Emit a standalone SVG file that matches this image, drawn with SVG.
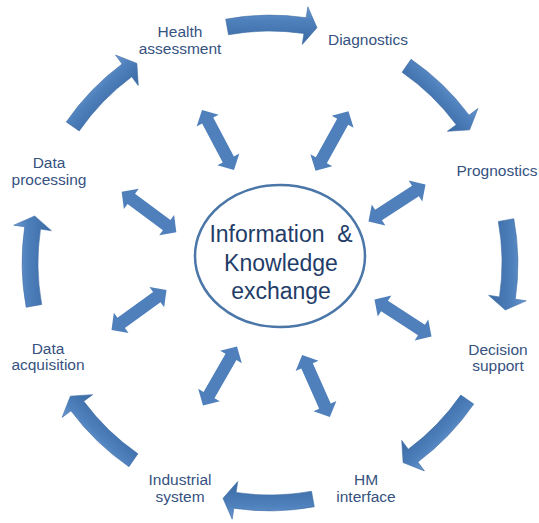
<svg xmlns="http://www.w3.org/2000/svg" width="539" height="523" viewBox="0 0 539 523">
<defs>
<linearGradient id="cg" x1="0" y1="0" x2="0" y2="1">
<stop offset="0" stop-color="#6e9bd1"/>
<stop offset="0.35" stop-color="#4f81bd"/>
<stop offset="1" stop-color="#3a69a2"/>
</linearGradient>
<path id="cyc" d="M-44.3,-243.8 A248,248 0 0 1 36.2,-245.3 L37.8,-256.2 L47,-235.3 L32.3,-218.6 L33.9,-229.5 A232,232 0 0 0 -41.5,-228.3 Z"/>
<path id="dbl" d="M-34,0 L-22,-12.5 L-22,-6.3 L22,-6.3 L22,-12.5 L34,0 L22,12.5 L22,6.3 L-22,6.3 L-22,12.5 Z"/>
</defs>
<style>
.cyc{fill:url(#cg);stroke:#3d6ca5;stroke-width:0.6}
.dbl{fill:#4f80bc}
.lbl{font-family:"Liberation Sans",Arial,sans-serif;font-size:15.5px;fill:#36527f;text-anchor:middle}
.ctr{font-family:"Liberation Sans",Arial,sans-serif;font-size:23px;fill:#1f3d68;text-anchor:middle}
.ell{fill:#ffffff;stroke:#4a76a8;stroke-width:2.5}
</style>
<rect width="539" height="523" fill="#ffffff"/>
<g id="connectors">
<g id="cycle-arrows">
<use href="#cyc" class="cyc" transform="translate(270,263) rotate(0)"/>
<use href="#cyc" class="cyc" transform="translate(270,263) rotate(45)"/>
<use href="#cyc" class="cyc" transform="translate(270,263) rotate(90)"/>
<use href="#cyc" class="cyc" transform="translate(270,263) rotate(135)"/>
<use href="#cyc" class="cyc" transform="translate(270,263) rotate(180)"/>
<use href="#cyc" class="cyc" transform="translate(270,263) rotate(225)"/>
<use href="#cyc" class="cyc" transform="translate(270,263) rotate(270)"/>
<use href="#cyc" class="cyc" transform="translate(270,263) rotate(315)"/>
</g>
<g id="exchange-arrows">
<use href="#dbl" class="dbl" transform="translate(218,140) rotate(62)"/>
<use href="#dbl" class="dbl" transform="translate(332,141) rotate(119)"/>
<use href="#dbl" class="dbl" transform="translate(397,203) rotate(147)"/>
<use href="#dbl" class="dbl" transform="translate(403,318) rotate(33)"/>
<use href="#dbl" class="dbl" transform="translate(316,386) rotate(66)"/>
<use href="#dbl" class="dbl" transform="translate(220,376) rotate(120)"/>
<use href="#dbl" class="dbl" transform="translate(139,310) rotate(144)"/>
<use href="#dbl" class="dbl" transform="translate(149,212) rotate(36.5)"/>
</g>
</g>
<g id="center">
<ellipse class="ell" cx="280" cy="256" rx="85" ry="71"/>
<text class="ctr" x="281" y="242" xml:space="preserve">Information  &amp;</text>
<text class="ctr" x="281" y="271">Knowledge</text>
<text class="ctr" x="281" y="299">exchange</text>
</g>
<g id="health"><text class="lbl" x="180" y="37">Health</text><text class="lbl" x="180" y="54">assessment</text></g>
<g id="diagnostics"><text class="lbl" x="368" y="45">Diagnostics</text></g>
<g id="prognostics"><text class="lbl" x="497" y="176">Prognostics</text></g>
<g id="decision"><text class="lbl" x="498" y="355">Decision</text><text class="lbl" x="498" y="371">support</text></g>
<g id="hm"><text class="lbl" x="366" y="485">HM</text><text class="lbl" x="366" y="502">interface</text></g>
<g id="industrial"><text class="lbl" x="180" y="485">Industrial</text><text class="lbl" x="180" y="502">system</text></g>
<g id="acquisition"><text class="lbl" x="48" y="354">Data</text><text class="lbl" x="48" y="370">acquisition</text></g>
<g id="processing"><text class="lbl" x="49" y="168">Data</text><text class="lbl" x="49" y="185">processing</text></g>
</svg>
